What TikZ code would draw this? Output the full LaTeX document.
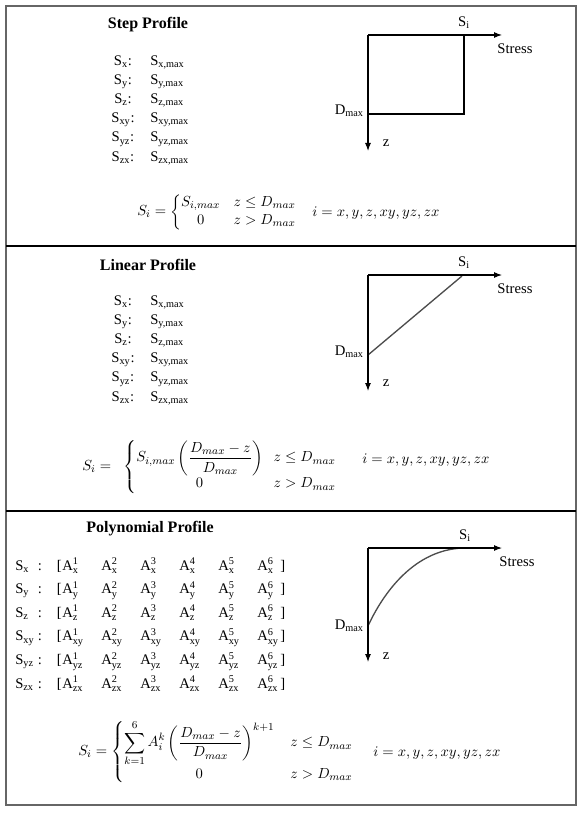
\documentclass[tikz,border=0pt]{standalone}
\usepackage{fontspec}
\usepackage{amsmath}
\setmainfont{Liberation Serif}
\usetikzlibrary{arrows.meta}
\begin{document}
\begin{tikzpicture}[x=0.75pt,y=-0.75pt,
  txt/.style={font=\fontsize{11}{13}\selectfont, inner sep=0pt},
  ttl/.style={font=\fontsize{12}{14}\selectfont\bfseries, inner sep=0pt},
  mth/.style={font=\fontsize{11}{13}\selectfont, inner sep=0pt},
  axis/.style={line width=0.8pt, -{Latex[length=6pt,width=4.5pt]}},
  frame/.style={line width=1.2pt, draw=black!60},
  divider/.style={line width=0.8pt},
  boxline/.style={line width=0.8pt},
  prof/.style={line width=1pt, draw=black!70}]
\useasboundingbox (0,0) rectangle (585,813);
\draw[frame] (6,6) rectangle (576,805);
\draw[divider] (6,246) -- (576,246);
\draw[divider] (6,511) -- (576,511);

% ---------------- Panel 1: Step ----------------
\node[ttl] (t1) at (148,25) {Step Profile};
\foreach \s [count=\k from 0] in {x,y,z,xy,yz,zx} {
  \node[txt,anchor=mid] (p1l\k) at (123,{62+19.2*\k}) {S\textsubscript{\s}:};
  \node[txt,anchor=mid west] (p1r\k) at (150,{62+19.2*\k}) {S\textsubscript{\s,max}};
}
\coordinate (o1) at (368,35);
\coordinate (x1) at (502,35);
\coordinate (y1) at (368,151);
\coordinate (s1) at (464,35);
\coordinate (d1) at (368,114);
\draw[boxline] (s1) |- (d1);
\draw[axis] (o1) -- (x1);
\draw[axis] (o1) -- (y1);
\node[txt] (si1) at (464,23) {S\textsubscript{i}};
\node[txt] (st1) at (515,49) {Stress};
\node[txt,anchor=east] (dm1) at (364,111) {D\textsubscript{max}};
\node[txt] (z1) at (386,143) {z};
\node[mth,anchor=west] (f1) at (137,212)
  {$S_i = \left\{\begin{array}{@{}c@{\hspace{10pt}}l@{}} S_{i,max} & z \le D_{max}\\ 0 & z > D_{max}\end{array}\right.$};
\node[mth,anchor=west] (i1) at (312,213) {$i = x, y, z, xy, yz, zx$};

% ---------------- Panel 2: Linear ----------------
\node[ttl] (t2) at (148,265) {Linear Profile};
\foreach \s [count=\k from 0] in {x,y,z,xy,yz,zx} {
  \node[txt,anchor=mid] (p2l\k) at (123,{302+19.2*\k}) {S\textsubscript{\s}:};
  \node[txt,anchor=mid west] (p2r\k) at (150,{302+19.2*\k}) {S\textsubscript{\s,max}};
}
\coordinate (o2) at (368,275);
\coordinate (x2) at (502,275);
\coordinate (y2) at (368,391);
\coordinate (s2) at (462,276);
\coordinate (d2) at (368,355);
\draw[prof] (s2) -- (d2);
\draw[axis] (o2) -- (x2);
\draw[axis] (o2) -- (y2);
\node[txt] (si2) at (464,263) {S\textsubscript{i}};
\node[txt] (st2) at (515,289) {Stress};
\node[txt,anchor=east] (dm2) at (364,352) {D\textsubscript{max}};
\node[txt] (z2) at (386,383) {z};
\node[mth,anchor=west] (f2) at (82,467)
  {$S_i =\;\; \left\{\begin{array}{@{}c@{\hspace{8pt}}l@{}} S_{i,max}\left(\dfrac{D_{max}-z}{D_{max}}\right) & z\le D_{max}\\[6pt] 0 & z> D_{max}\end{array}\right.$};
\node[mth,anchor=west] (i2) at (362,460) {$i = x, y, z, xy, yz, zx$};

% ---------------- Panel 3: Polynomial ----------------
\node[ttl] (t3) at (150,529) {Polynomial Profile};
\foreach \s [count=\k from 0] in {x,y,z,xy,yz,zx} {
  \node[txt,anchor=mid west] (ml\k) at (15,{567+23.6*\k}) {S\textsubscript{\s}};
  \node[txt,anchor=mid] (mc\k) at (40,{567+23.6*\k}) {:};
  \node[txt,anchor=mid east] (mb\k) at (62,{567+23.6*\k}) {[};
  \foreach \j [count=\jj from 0] in {1,...,6} {
    \node[txt,anchor=mid west] (m\k a\j) at ({62+39*\jj},{567+23.6*\k}) {A$^{\text{\j}}_{\text{\s}}$};
  }
  \node[txt,anchor=mid west] (me\k) at (280,{567+23.6*\k}) {]};
}
\coordinate (o3) at (368,548);
\coordinate (x3) at (502,548);
\coordinate (y3) at (368,662);
\coordinate (s3) at (463,548);
\coordinate (d3) at (368,626);
\draw[prof] (d3) .. controls (380,600) and (410,550) .. (s3);
\draw[axis] (o3) -- (x3);
\draw[axis] (o3) -- (y3);
\node[txt] (si3) at (465,536) {S\textsubscript{i}};
\node[txt] (st3) at (517,562) {Stress};
\node[txt,anchor=east] (dm3) at (364,626) {D\textsubscript{max}};
\node[txt] (z3) at (386,656) {z};
\node[mth,anchor=west] (f3) at (78,752)
  {$S_i = \left\{\begin{array}{@{}c@{\hspace{12pt}}l@{}} \displaystyle\sum_{k=1}^{6} A_i^k\left(\frac{D_{max}-z}{D_{max}}\right)^{k+1} & z \le D_{max}\\[8pt] 0 & z > D_{max}\end{array}\right.$};
\node[mth,anchor=west] (i3) at (373,753) {$i = x, y, z, xy, yz, zx$};
\end{tikzpicture}
\end{document}
